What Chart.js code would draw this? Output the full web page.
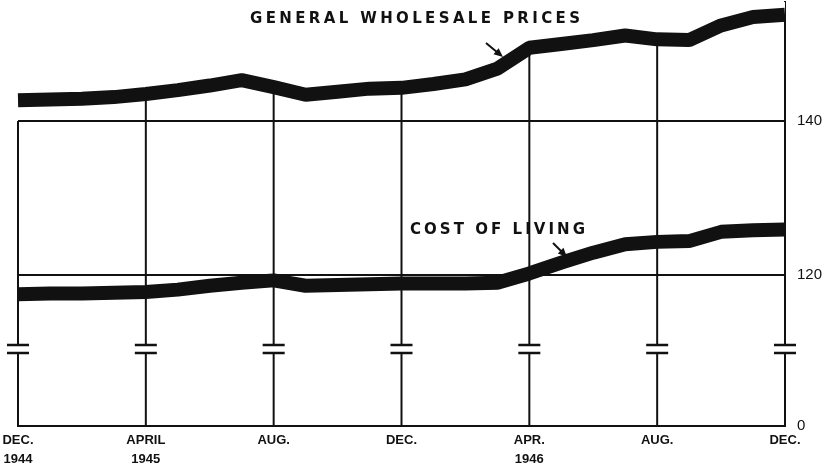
<!DOCTYPE html>
<html>
<head>
<meta charset="utf-8">
<script src="https://cdn.jsdelivr.net/npm/chart.js@4/dist/chart.umd.min.js"></script>
<style>
  html, body { margin: 0; padding: 0; background: #fff; }
  #wrap { width: 831px; height: 469px; position: relative; }
</style>
</head>
<body>
<div id="wrap"><canvas id="chart"></canvas></div>
<script>
// months Dec 1944 .. Dec 1946
var months = ['Dec 1944', 'Jan 1945', 'Feb 1945', 'Mar 1945', 'Apr 1945', 'May 1945', 'Jun 1945',
  'Jul 1945', 'Aug 1945', 'Sep 1945', 'Oct 1945', 'Nov 1945', 'Dec 1945', 'Jan 1946', 'Feb 1946',
  'Mar 1946', 'Apr 1946', 'May 1946', 'Jun 1946', 'Jul 1946', 'Aug 1946', 'Sep 1946', 'Oct 1946',
  'Nov 1946', 'Dec 1946'];

var wholesale = [142.7, 142.8, 142.9, 143.1, 143.5, 144.0, 144.6, 145.3, 144.4, 143.4, 143.8, 144.2,
  144.3, 144.8, 145.4, 146.8, 149.5, 150.0, 150.5, 151.1, 150.6, 150.5, 152.4, 153.5, 153.8];

var costOfLiving = [117.5, 117.6, 117.6, 117.7, 117.8, 118.1, 118.6, 119.0, 119.3, 118.6, 118.7, 118.8,
  118.9, 118.9, 118.9, 119.0, 120.2, 121.6, 122.9, 124.0, 124.3, 124.4, 125.6, 125.8, 125.9];

var tickLabels = {
  'Dec 1944': ['DEC.', '1944'],
  'Apr 1945': ['APRIL', '1945'],
  'Aug 1945': ['AUG.'],
  'Dec 1945': ['DEC.'],
  'Apr 1946': ['APR.', '1946'],
  'Aug 1946': ['AUG.'],
  'Dec 1946': ['DEC.']
};

var yTicks = [120, 140];
var yBase = 100.39;   // broken axis: bottom line is labelled 0
var yTop = 155.45;

var INK = '#111';
var NONE = 'rgba(0,0,0,0)';

function drawSpaced(ctx, text, x, y, width) {
  var w = ctx.measureText(text).width;
  var sp = (width - w) / (text.length - 1);
  var cx = x;
  for (var i = 0; i < text.length; i++) {
    ctx.fillText(text[i], cx, y);
    cx += ctx.measureText(text[i]).width + sp;
  }
}

function arrow(ctx, x1, y1, x2, y2) {
  var a = Math.atan2(y2 - y1, x2 - x1);
  ctx.beginPath();
  ctx.moveTo(x1, y1);
  ctx.lineTo(x2 - 6 * Math.cos(a), y2 - 6 * Math.sin(a));
  ctx.lineWidth = 2;
  ctx.stroke();
  ctx.beginPath();
  ctx.moveTo(x2, y2);
  ctx.lineTo(x2 - 9 * Math.cos(a) + 4 * Math.sin(a), y2 - 9 * Math.sin(a) - 4 * Math.cos(a));
  ctx.lineTo(x2 - 9 * Math.cos(a) - 4 * Math.sin(a), y2 - 9 * Math.sin(a) + 4 * Math.cos(a));
  ctx.closePath();
  ctx.fill();
}

var decor = {
  id: 'decor',
  // verticals go under the datasets; the white fill above the top line hides their tops
  beforeDatasetsDraw: function (chart) {
    var ctx = chart.ctx, xs = chart.scales.x, area = chart.chartArea;
    ctx.save();
    ctx.strokeStyle = INK;
    ctx.lineWidth = 2;
    months.forEach(function (m, i) {
      if (!tickLabels[m] || i === 0) return;
      var x = xs.getPixelForValue(i);
      ctx.beginPath();
      ctx.moveTo(x, area.top);
      ctx.lineTo(x, area.bottom);
      ctx.stroke();
    });
    ctx.restore();
  },
  afterDatasetsDraw: function (chart) {
    var ctx = chart.ctx;
    var xs = chart.scales.x, ys = chart.scales.y;
    var area = chart.chartArea;
    ctx.save();
    ctx.strokeStyle = INK;
    ctx.fillStyle = INK;

    // left frame edge starts at the 140 line
    var x0 = xs.getPixelForValue(0);
    ctx.lineWidth = 2;
    ctx.beginPath();
    ctx.moveTo(x0, ys.getPixelForValue(140));
    ctx.lineTo(x0, area.bottom);
    ctx.stroke();

    // scale break marks on each vertical
    months.forEach(function (m, i) {
      if (!tickLabels[m]) return;
      var x = xs.getPixelForValue(i);
      var b1 = area.bottom - 81, b2 = area.bottom - 73;
      ctx.fillStyle = '#fff';
      ctx.fillRect(x - 3, b1, 6, b2 - b1);
      ctx.lineWidth = 2.5;
      ctx.beginPath();
      ctx.moveTo(x - 11, b1); ctx.lineTo(x + 11, b1);
      ctx.moveTo(x - 11, b2); ctx.lineTo(x + 11, b2);
      ctx.stroke();
    });

    // labels and arrows
    ctx.fillStyle = INK;
    ctx.textBaseline = 'alphabetic';
    ctx.font = 'bold 15px "DejaVu Sans"';
    drawSpaced(ctx, 'GENERAL WHOLESALE PRICES', 250, 23, 330);
    arrow(ctx, 486, 43, 503, 57);

    ctx.font = 'bold 15px "DejaVu Sans"';
    drawSpaced(ctx, 'COST OF LIVING', 410, 234, 175);
    arrow(ctx, 553, 243, 567, 257);
    ctx.restore();
  }
};

new Chart(document.getElementById('chart'), {
  type: 'line',
  data: {
    labels: months,
    datasets: [{
      label: 'General wholesale prices',
      data: wholesale,
      borderColor: INK,
      borderWidth: 14,
      borderJoinStyle: 'bevel',
      pointRadius: 0,
      tension: 0,
      fill: 'end',
      backgroundColor: '#fff'
    }, {
      label: 'Cost of living',
      data: costOfLiving,
      borderColor: INK,
      borderWidth: 14,
      borderJoinStyle: 'bevel',
      pointRadius: 0,
      tension: 0,
      fill: false
    }]
  },
  options: {
    responsive: true,
    maintainAspectRatio: false,
    animation: false,
    layout: { padding: { top: 2, left: 18, right: 0, bottom: 0 } },
    plugins: {
      legend: { display: false },
      tooltip: { enabled: false }
    },
    scales: {
      x: {
        type: 'category',
        offset: false,
        afterFit: function (s) { s.height = 43; s.paddingLeft = 0; s.paddingRight = 0; },
        grid: { display: false, drawTicks: false, tickLength: 0 },
        border: { display: true, color: INK, width: 2 },
        ticks: {
          autoSkip: false,
          maxRotation: 0,
          padding: 5,
          color: INK,
          font: { family: '"Liberation Sans"', weight: 'bold', size: 13, lineHeight: 1.45 },
          callback: function (v, i) { return tickLabels[months[i]] || ''; }
        }
      },
      y: {
        position: 'right',
        min: yBase,
        max: yTop,
        afterFit: function (s) { s.width = 46; s.paddingTop = 0; s.paddingBottom = 0; },
        afterBuildTicks: function (s) {
          s.ticks = [yBase].concat(yTicks).map(function (v) { return { value: v }; });
        },
        grid: {
          drawTicks: false,
          lineWidth: 2,
          color: function (c) { return (c.tick && c.tick.value === yBase) ? NONE : INK; }
        },
        border: { display: true, color: INK, width: 2 },
        ticks: {
          padding: 12,
          color: INK,
          font: { family: '"Liberation Sans"', size: 15 },
          callback: function (v) { return v === yBase ? '0' : String(v); }
        }
      }
    }
  },
  plugins: [decor]
});
</script>
</body>
</html>
